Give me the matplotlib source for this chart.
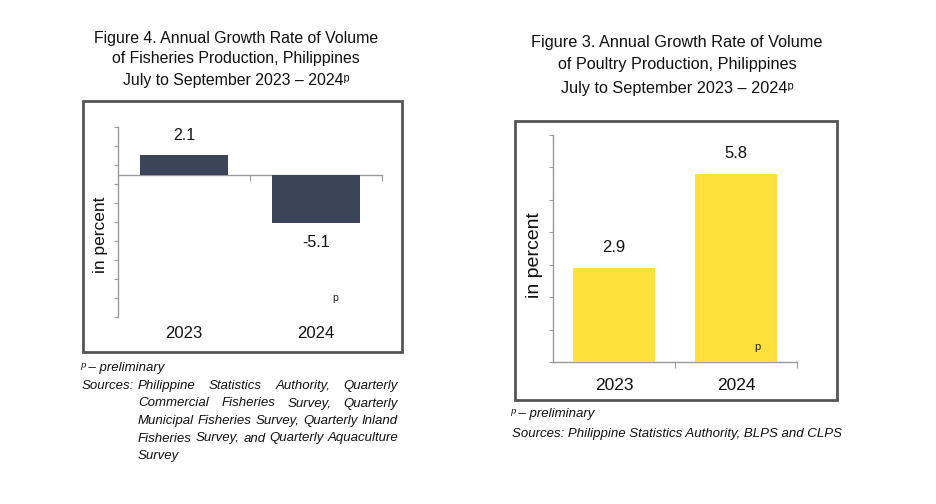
import matplotlib
matplotlib.use("Agg")
import matplotlib.pyplot as plt
from matplotlib.patches import Rectangle
from matplotlib.transforms import blended_transform_factory

# ---- data ----
categories = ["2023", "2024"]
fisheries_growth = [2.1, -5.1]
poultry_growth = [2.9, 5.8]

fish_title = ["Figure 4. Annual Growth Rate of Volume",
              "of Fisheries Production, Philippines",
              "July to September 2023 \u2013 2024\u1d56"]
poultry_title = ["Figure 3. Annual Growth Rate of Volume",
                 "of Poultry Production, Philippines",
                 "July to September 2023 \u2013 2024\u1d56"]
fish_sources = ["Philippine Statistics Authority, Quarterly",
                "Commercial Fisheries Survey, Quarterly",
                "Municipal Fisheries Survey, Quarterly Inland",
                "Fisheries Survey, and Quarterly Aquaculture",
                "Survey"]
poultry_sources = "Sources: Philippine Statistics Authority, BLPS and CLPS"

W, H = 937, 504
FONT = ["Liberation Sans", "DejaVu Sans"]
plt.rcParams['font.family'] = FONT
FN = 9.5  # footnote size

fig = plt.figure(figsize=(W / 100, H / 100), dpi=100)
fig.patch.set_facecolor("white")


def fx(x):
    return x / W


def fy(y):
    return 1 - y / H


def ftext(x, y, s, **kw):
    kw.setdefault("family", FONT)
    return fig.text(fx(x), fy(y), s, **kw)


def frame(x0, y0, x1, y1):
    fig.patches.append(Rectangle((fx(x0), fy(y1)), fx(x1) - fx(x0), fy(y0) - fy(y1),
                                 transform=fig.transFigure, fill=False,
                                 edgecolor="#555555", lw=2.0, zorder=0))


def style_axes(ax, ymin, ymax, ystep, yticks_start):
    ax.set_xlim(-0.5, 1.5)
    ax.set_ylim(ymin, ymax)
    for s in ["top", "right"]:
        ax.spines[s].set_visible(False)
    ax.spines["left"].set_color("#9a9a9a")
    ax.spines["bottom"].set_color("#9a9a9a")
    ax.spines["left"].set_linewidth(1.0)
    ax.spines["bottom"].set_linewidth(1.0)
    ax.spines["bottom"].set_position(("data", 0))
    ticks = []
    t = yticks_start
    while t <= ymax + 1e-9:
        ticks.append(t)
        t += ystep
    ax.set_yticks(ticks)
    ax.set_yticklabels([])
    ax.set_xticks([0.5, 1.5])
    ax.set_xticklabels([])
    ax.tick_params(axis="y", length=3, width=0.8, color="#9a9a9a", direction="out")
    ax.tick_params(axis="x", length=4, width=0.8, color="#9a9a9a", direction="out")
    ax.patch.set_alpha(0)


# ================= LEFT: Fisheries =================
frame(83, 101, 402, 352)
axL = fig.add_axes([fx(118), fy(317), fx(382) - fx(118), fy(127) - fy(317)])
style_axes(axL, -15, 5, 2, -15)
x = list(range(len(categories)))
barsL = axL.bar(x, fisheries_growth, width=0.66, color="#3B4559", zorder=3)
for xi, v in zip(x, fisheries_growth):
    off = 14 if v >= 0 else -14
    axL.annotate(f"{v:.1f}", (xi, v), xytext=(0, off), textcoords="offset points",
                 ha="center", va="center", fontsize=11.5, family=FONT, color="#111111")
trL = blended_transform_factory(axL.transData, fig.transFigure)
for xi, c in zip(x, categories):
    axL.text(xi, fy(334), c, transform=trL, ha="center", va="center",
             fontsize=12, family=FONT, color="#111111")
ftext(335, 298, "p", ha="center", va="center", fontsize=7.5, color="#222222")
ftext(101, 235, "in percent", rotation=90, ha="center", va="center",
      fontsize=12.5, color="#111111")

for i, line in enumerate(fish_title):
    ftext(236, 38 + i * 21, line, ha="center", va="center", fontsize=11.4, color="#111111")

# footnotes (left)
ftext(80, 368, "\u1d56 \u2013 preliminary", ha="left", va="center", fontsize=FN,
      style="italic", color="#111111")
ftext(82, 386, "Sources:", ha="left", va="center", fontsize=FN, style="italic",
      color="#111111")

fig.canvas.draw()
renderer = fig.canvas.get_renderer()
x_start, x_end = 138, 398
line_ys = [386, 403.5, 421, 438.5, 456]
for li, (line, yy) in enumerate(zip(fish_sources, line_ys)):
    words = line.split(" ")
    justify = li < len(fish_sources) - 1 and len(words) > 1
    if not justify:
        ftext(x_start, yy, line, ha="left", va="center", fontsize=FN,
              style="italic", color="#111111")
        continue
    arts = []
    widths = []
    for w_ in words:
        t = ftext(0, yy, w_, ha="left", va="center", fontsize=FN, style="italic",
                  color="#111111")
        bb = t.get_window_extent(renderer=renderer)
        arts.append(t)
        widths.append(bb.width)
    gap = (x_end - x_start - sum(widths)) / (len(words) - 1)
    gap = max(gap, 3.0)
    cx = x_start
    for t, wd in zip(arts, widths):
        t.set_x(fx(cx))
        cx += wd + gap

# ================= RIGHT: Poultry =================
frame(515, 121, 837, 400)
axR = fig.add_axes([fx(553), fy(362), fx(797) - fx(553), fy(135) - fy(362)])
style_axes(axR, 0, 7, 1, 0)
barsR = axR.bar(x, poultry_growth, width=0.665, color="#FFE03D", zorder=3)
for xi, v in zip(x, poultry_growth):
    axR.annotate(f"{v:.1f}", (xi, v), xytext=(0, 14.5), textcoords="offset points",
                 ha="center", va="center", fontsize=12, family=FONT, color="#111111")
trR = blended_transform_factory(axR.transData, fig.transFigure)
for xi, c in zip(x, categories):
    axR.text(xi, fy(385), c, transform=trR, ha="center", va="center",
             fontsize=12.5, family=FONT, color="#111111")
ftext(757, 347, "p", ha="center", va="center", fontsize=8, color="#222222")
ftext(535, 255, "in percent", rotation=90, ha="center", va="center",
      fontsize=14, color="#111111")

for i, line in enumerate(poultry_title):
    ftext(677, 42 + i * 23, line, ha="center", va="center", fontsize=11.7, color="#111111")

ftext(510, 414, "\u1d56 \u2013 preliminary", ha="left", va="center", fontsize=FN,
      style="italic", color="#111111")
ftext(512, 434, poultry_sources, ha="left", va="center", fontsize=FN,
      style="italic", color="#111111")

fig.savefig("out.png", dpi=100, facecolor="white")
